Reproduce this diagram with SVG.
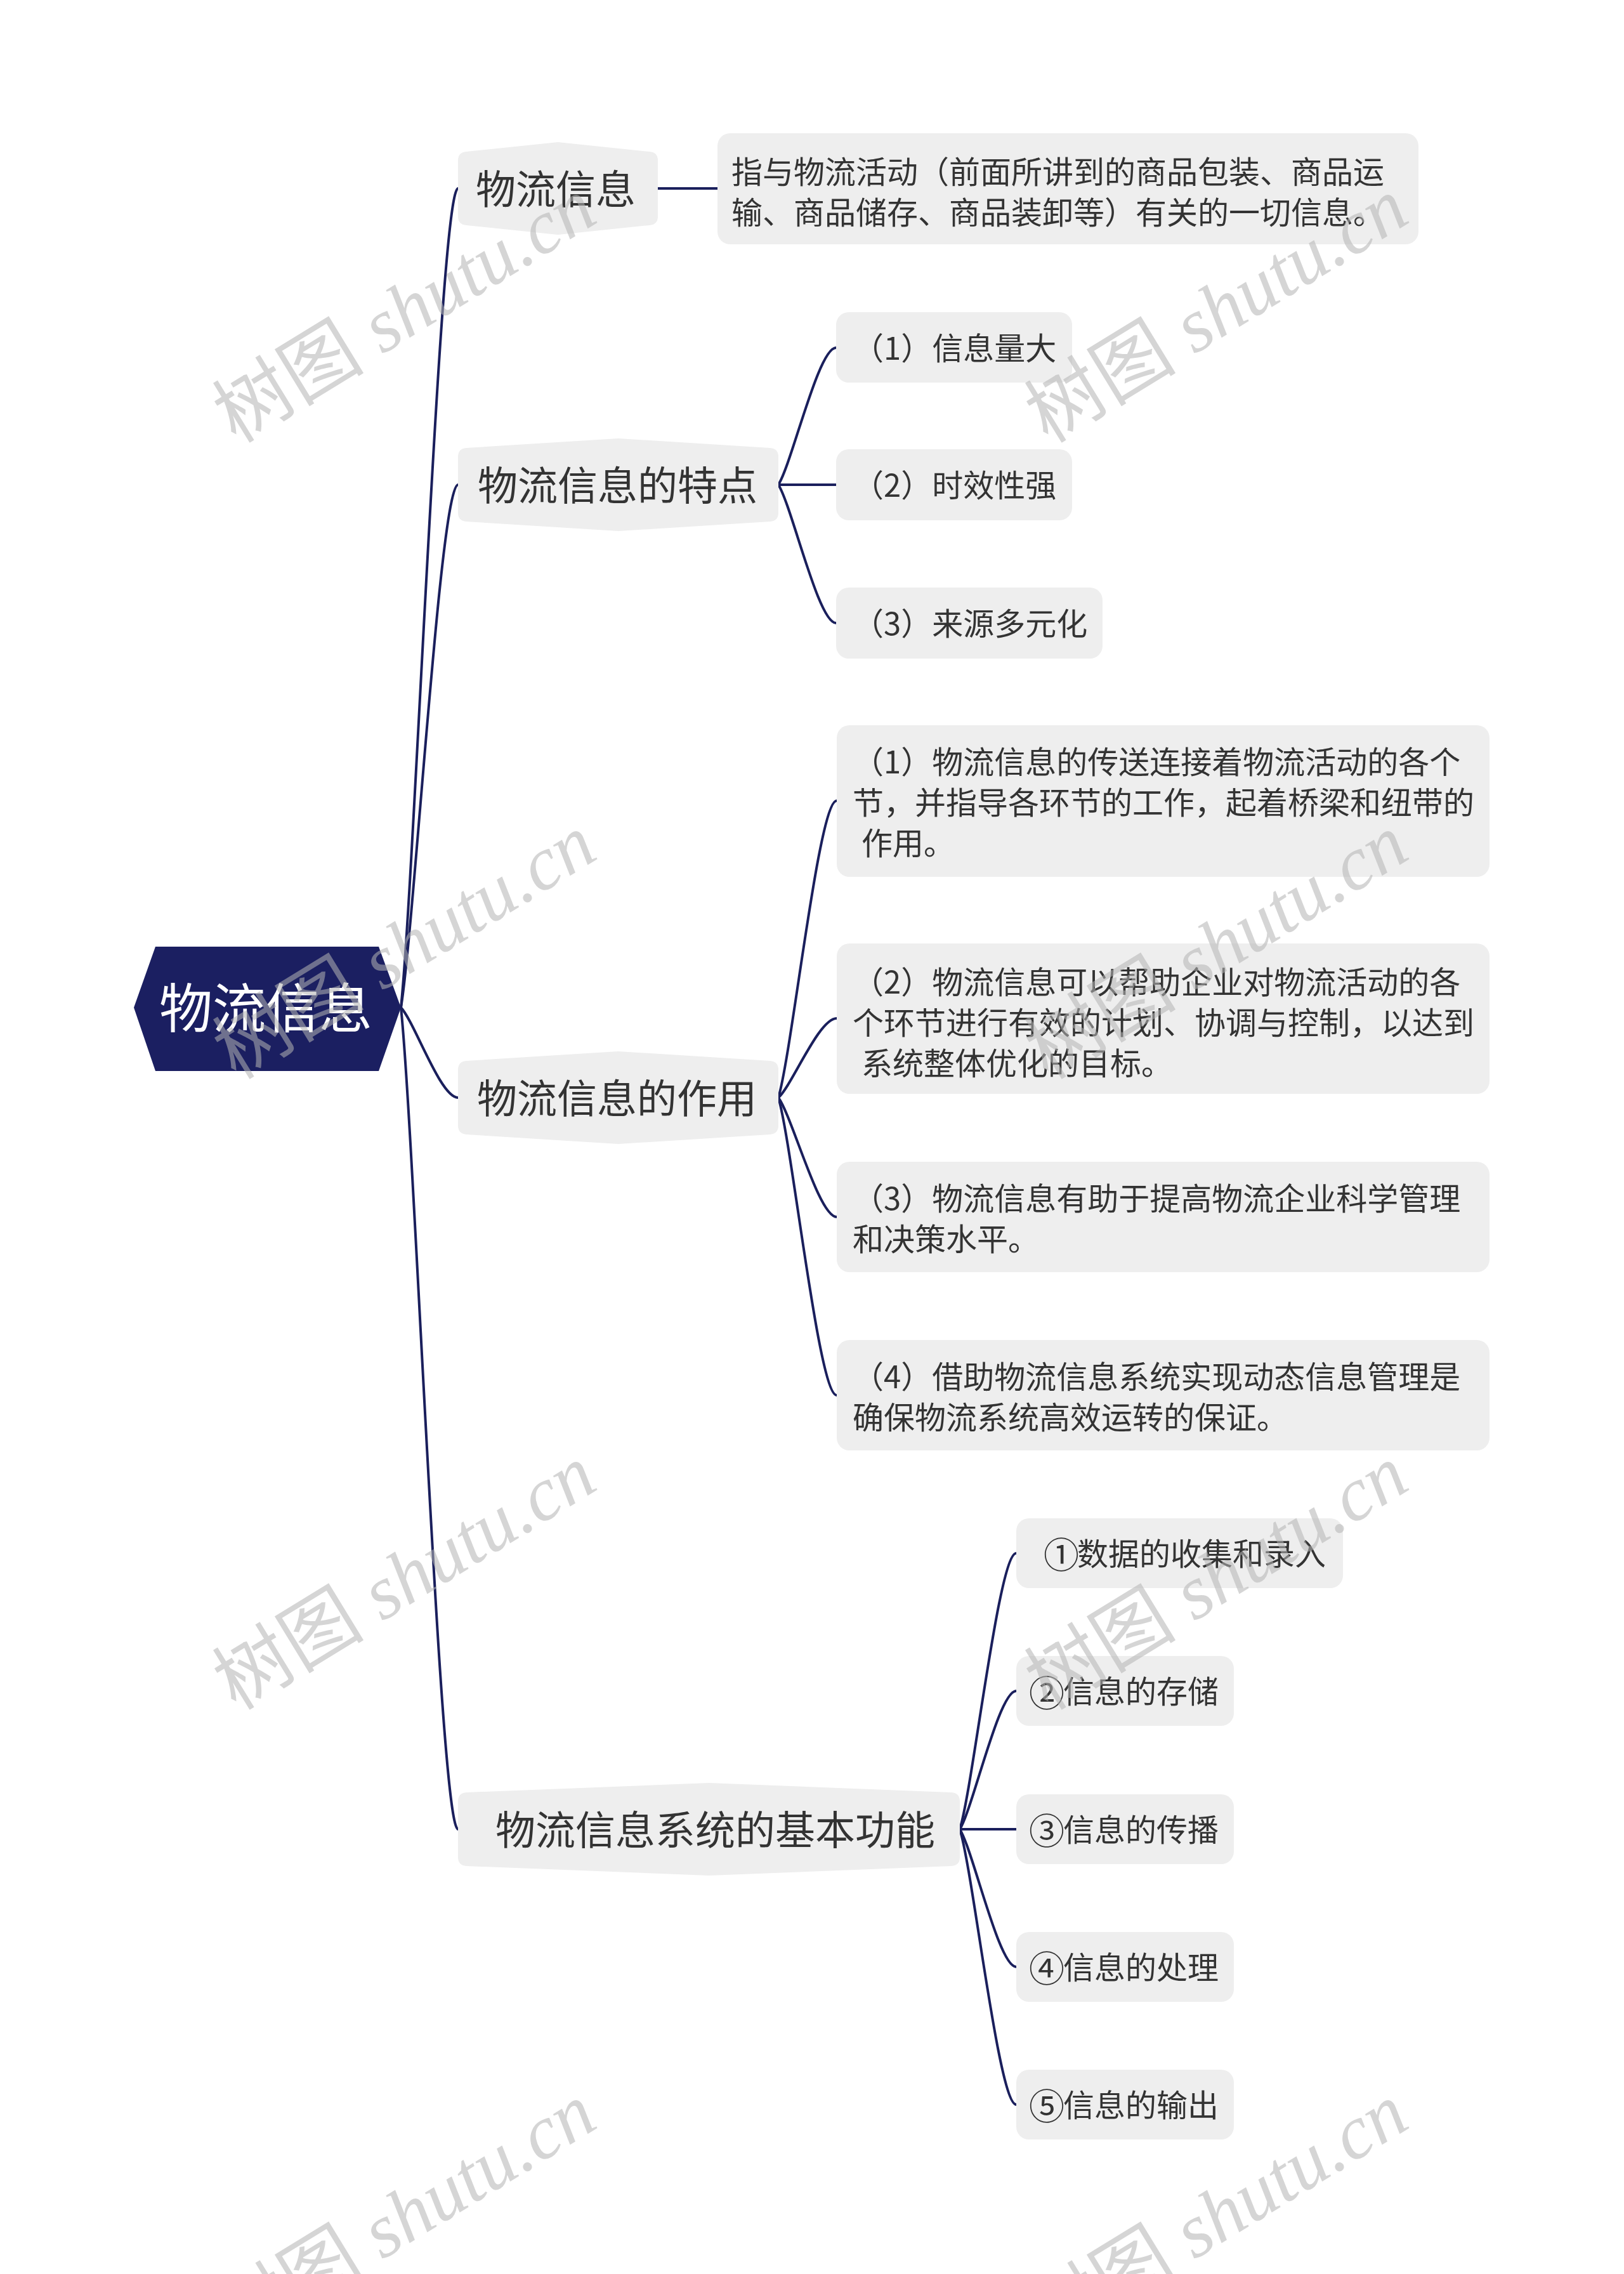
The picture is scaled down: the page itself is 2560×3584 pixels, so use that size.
<svg xmlns="http://www.w3.org/2000/svg" width="2560" height="3584" viewBox="0 0 2560 3584">
<style>
.l1{fill:#eeeeee;}
.box{fill:#eeeeee;}
.t1{font-family:"Noto Sans CJK SC","Noto Sans",sans-serif;font-size:63px;fill:#333333;}
.t2{font-family:"Noto Sans CJK SC","Noto Sans",sans-serif;font-size:49px;fill:#333333;}
.cd{font-family:"Noto Sans CJK SC","Noto Sans",sans-serif;font-size:56px;fill:#333333;text-anchor:middle;}
.root{font-family:"Noto Sans CJK SC","Noto Sans",sans-serif;font-size:84px;fill:#ffffff;}
.conn path{fill:none;stroke:#1a1f5c;stroke-width:4;}
.wm{font-family:"Liberation Serif","Noto Sans CJK SC",serif;font-size:120px;fill:#b4b4b4;opacity:0.55;}
</style>
<rect width="2560" height="3584" fill="#ffffff"/>
<g id="connectors" class="conn">
<path d="M632 1588 C653.6 1381.4 694.1 297 722 297"/>
<path d="M632 1588 C653.6 1456.2 694.1 764 722 764"/>
<path d="M632 1588 C653.6 1610.7 694.1 1730 722 1730"/>
<path d="M632 1588 C653.6 1795.2 694.1 2883 722 2883"/>
<path d="M1037 297 L1131 297"/>
<path d="M1227 764 C1248.8 729.4 1289.8 548 1318 548"/>
<path d="M1227 764 L1318 764"/>
<path d="M1227 764 C1248.8 798.9 1289.8 982 1318 982"/>
<path d="M1227 1730 C1249.1 1655.1 1290.5 1262 1319 1262"/>
<path d="M1227 1730 C1249.1 1710 1290.5 1605 1319 1605"/>
<path d="M1227 1730 C1249.1 1760.1 1290.5 1918 1319 1918"/>
<path d="M1227 1730 C1249.1 1805 1290.5 2199 1319 2199"/>
<path d="M1513 2883 C1534.4 2813.4 1574.4 2448 1602 2448"/>
<path d="M1513 2883 C1534.4 2848.1 1574.4 2665 1602 2665"/>
<path d="M1513 2883 L1602 2883"/>
<path d="M1513 2883 C1534.4 2917.7 1574.4 3100 1602 3100"/>
<path d="M1513 2883 C1534.4 2952.4 1574.4 3317 1602 3317"/>
</g>
<g id="root">
<polygon points="211,1588 245,1492 597,1492 632,1588 597,1688 245,1688" fill="#1b1f61"/>
<text class="root" x="251" y="1620">物流信息</text>
</g>
<g id="n1">
<path class="l1" d="M722 253 Q722 240 735 239 L879.5 224 L1024 239 Q1037 240 1037 253 L1037 341 Q1037 354 1024 355 L879.5 370 L735 355 Q722 354 722 341 Z"/>
<text class="t1" x="750" y="321">物流信息</text>
</g>
<g id="n1-1">
<rect class="box" x="1131" y="210" width="1105" height="175" rx="20"/>
<text class="t2" x="1153" y="289">指与物流活动（前面所讲到的商品包装、商品运</text>
<text class="t2" x="1153" y="353">输、商品储存、商品装卸等）有关的一切信息。</text>
</g>
<g id="n2">
<path class="l1" d="M722 720 Q722 707 735 706 L974.5 691 L1214 706 Q1227 707 1227 720 L1227 808 Q1227 821 1214 822 L974.5 837 L735 822 Q722 821 722 808 Z"/>
<text class="t1" x="753" y="788">物流信息的特点</text>
</g>
<g id="n2-1">
<rect class="box" x="1318" y="492" width="372" height="111" rx="20"/>
<text class="t2" x="1344" y="567">（1）信息量大</text>
</g>
<g id="n2-2">
<rect class="box" x="1318" y="708" width="372" height="112" rx="20"/>
<text class="t2" x="1344" y="783">（2）时效性强</text>
</g>
<g id="n2-3">
<rect class="box" x="1318" y="926" width="420" height="112" rx="20"/>
<text class="t2" x="1344" y="1001">（3）来源多元化</text>
</g>
<g id="n3">
<path class="l1" d="M722 1686 Q722 1673 735 1672 L974.5 1657 L1214 1672 Q1227 1673 1227 1686 L1227 1774 Q1227 1787 1214 1788 L974.5 1803 L735 1788 Q722 1787 722 1774 Z"/>
<text class="t1" x="752" y="1754">物流信息的作用</text>
</g>
<g id="n3-1">
<rect class="box" x="1319" y="1143" width="1029" height="239" rx="20"/>
<text class="t2" x="1344" y="1219">（1）物流信息的传送连接着物流活动的各个</text>
<text class="t2" x="1344" y="1283">节，并指导各环节的工作，起着桥梁和纽带的</text>
<text class="t2" x="1358" y="1347">作用。</text>
</g>
<g id="n3-2">
<rect class="box" x="1319" y="1487" width="1029" height="237" rx="20"/>
<text class="t2" x="1344" y="1566">（2）物流信息可以帮助企业对物流活动的各</text>
<text class="t2" x="1344" y="1630">个环节进行有效的计划、协调与控制，以达到</text>
<text class="t2" x="1358" y="1694">系统整体优化的目标。</text>
</g>
<g id="n3-3">
<rect class="box" x="1319" y="1831" width="1029" height="174" rx="20"/>
<text class="t2" x="1344" y="1907">（3）物流信息有助于提高物流企业科学管理</text>
<text class="t2" x="1344" y="1971">和决策水平。</text>
</g>
<g id="n3-4">
<rect class="box" x="1319" y="2112" width="1029" height="174" rx="20"/>
<text class="t2" x="1344" y="2188">（4）借助物流信息系统实现动态信息管理是</text>
<text class="t2" x="1344" y="2252">确保物流系统高效运转的保证。</text>
</g>
<g id="n4">
<path class="l1" d="M722 2839 Q722 2826 735 2825 L1117.5 2810 L1500 2825 Q1513 2826 1513 2839 L1513 2927 Q1513 2940 1500 2941 L1117.5 2956 L735 2941 Q722 2940 722 2927 Z"/>
<text class="t1" x="781" y="2907">物流信息系统的基本功能</text>
</g>
<g id="n4-1">
<rect class="box" x="1602" y="2393" width="515" height="110" rx="20"/>
<text class="cd" x="1673" y="2471">①</text>
<text class="t2" x="1698" y="2467">数据的收集和录入</text>
</g>
<g id="n4-2">
<rect class="box" x="1602" y="2610" width="343" height="110" rx="20"/>
<text class="cd" x="1650" y="2689">②</text>
<text class="t2" x="1676" y="2684">信息的存储</text>
</g>
<g id="n4-3">
<rect class="box" x="1602" y="2828" width="343" height="110" rx="20"/>
<text class="cd" x="1650" y="2906">③</text>
<text class="t2" x="1676" y="2902">信息的传播</text>
</g>
<g id="n4-4">
<rect class="box" x="1602" y="3045" width="343" height="110" rx="20"/>
<text class="cd" x="1650" y="3123">④</text>
<text class="t2" x="1676" y="3119">信息的处理</text>
</g>
<g id="n4-5">
<rect class="box" x="1602" y="3262" width="343" height="110" rx="20"/>
<text class="cd" x="1650" y="3340">⑤</text>
<text class="t2" x="1676" y="3336">信息的输出</text>
</g>
<g id="watermarks">
<text class="wm" transform="translate(372 700) rotate(-31.5)">树图 <tspan font-style="italic">shutu.cn</tspan></text>
<text class="wm" transform="translate(1652 700) rotate(-31.5)">树图 <tspan font-style="italic">shutu.cn</tspan></text>
<text class="wm" transform="translate(372 1703) rotate(-31.5)">树图 <tspan font-style="italic">shutu.cn</tspan></text>
<text class="wm" transform="translate(1652 1703) rotate(-31.5)">树图 <tspan font-style="italic">shutu.cn</tspan></text>
<text class="wm" transform="translate(372 2697) rotate(-31.5)">树图 <tspan font-style="italic">shutu.cn</tspan></text>
<text class="wm" transform="translate(1652 2697) rotate(-31.5)">树图 <tspan font-style="italic">shutu.cn</tspan></text>
<text class="wm" transform="translate(372 3703) rotate(-31.5)">树图 <tspan font-style="italic">shutu.cn</tspan></text>
<text class="wm" transform="translate(1652 3703) rotate(-31.5)">树图 <tspan font-style="italic">shutu.cn</tspan></text>
</g>
</svg>
